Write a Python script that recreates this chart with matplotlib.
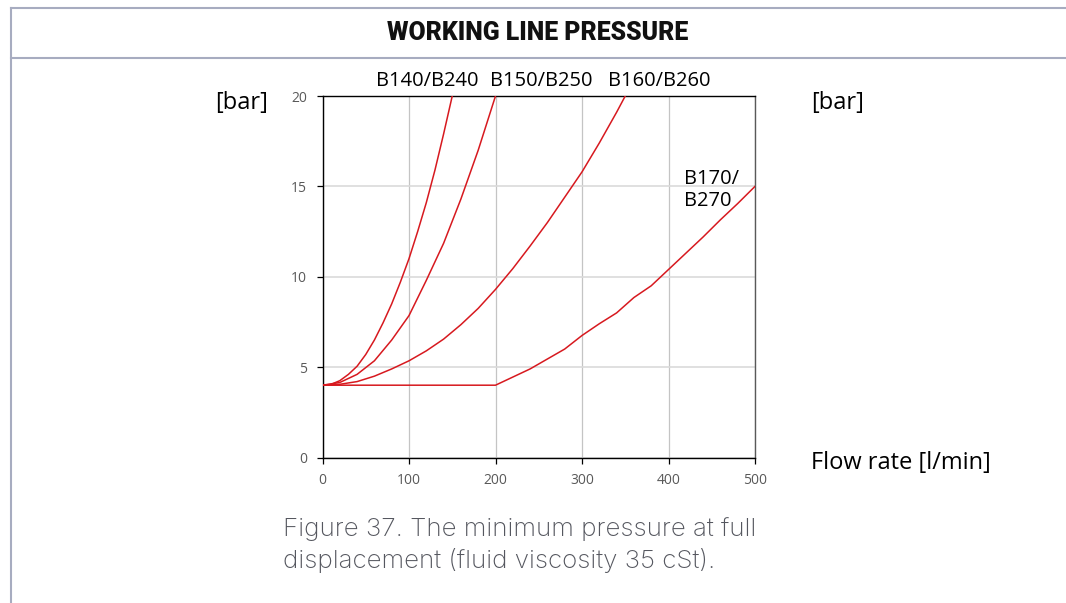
import matplotlib.pyplot as plt
from matplotlib.lines import Line2D

# flow rate [l/min] and minimum pressure [bar] per pump size
q140 = [0, 10, 20, 30, 40, 50, 60, 70, 80, 90, 100, 110, 120, 130, 140, 150]
p140 = [4.0, 4.05, 4.25, 4.6, 5.05, 5.7, 6.5, 7.45, 8.5, 9.7, 11.0, 12.5, 14.1, 15.9, 17.9, 20.0]

q150 = [0, 20, 40, 60, 80, 100, 120, 140, 160, 180, 200]
p150 = [4.0, 4.15, 4.6, 5.35, 6.5, 7.85, 9.8, 11.85, 14.3, 17.0, 20.0]

q160 = [0, 20, 40, 60, 80, 100, 120, 140, 160, 180, 200, 220, 240, 260, 280, 300, 320, 340, 350]
p160 = [4.0, 4.05, 4.2, 4.5, 4.9, 5.35, 5.9, 6.55, 7.35, 8.25, 9.3, 10.45, 11.7, 13.0, 14.4, 15.8, 17.4, 19.1, 20.0]

q170 = [0, 200, 220, 240, 260, 280, 300, 320, 340, 360, 380, 400, 420, 440, 460, 480, 500]
p170 = [4.0, 4.0, 4.45, 4.9, 5.45, 6.0, 6.75, 7.4, 8.0, 8.85, 9.5, 10.4, 11.3, 12.2, 13.15, 14.05, 15.0]

series = [(q140, p140), (q150, p150), (q160, p160), (q170, p170)]
top_labels = ['B140/B240', 'B150/B250', 'B160/B260']

W, H = 1066, 603
def fx(x):
    return x / W
def fy(y):
    return 1 - y / H

fig = plt.figure(figsize=(W / 100, H / 100), dpi=100)
fig.patch.set_facecolor('white')

# frame lines around the section
frame_c = '#a7acc0'
fig.add_artist(Line2D([fx(11), 1], [fy(8), fy(8)], color=frame_c, lw=1.5))
fig.add_artist(Line2D([fx(11), 1], [fy(57.5), fy(57.5)], color=frame_c, lw=1.5))
fig.add_artist(Line2D([fx(11), fx(11)], [fy(8), 0], color=frame_c, lw=1.5))

fig.text(fx(538), fy(33), 'WORKING LINE PRESSURE', ha='center', va='center',
         fontsize=17.8, fontweight='black', family='Roboto', color='#111111')

ax = fig.add_axes([fx(322.5), fy(457.5), (755 - 322.5) / W, (457.5 - 96) / H])
red = '#d7191f'
for q, p in series:
    ax.plot(q, p, color=red, lw=1.1, solid_joinstyle='round', zorder=3)

ax.set_xlim(0, 500)
ax.set_ylim(0, 20)
ax.set_xticks([0, 100, 200, 300, 400, 500])
ax.set_yticks([0, 5, 10, 15, 20])
ax.xaxis.grid(True, color='#c4c4c4', lw=0.9)
ax.yaxis.grid(True, color='#dadada', lw=1.2)
ax.set_axisbelow(True)
for s in ['left', 'bottom', 'top']:
    ax.spines[s].set_color('black')
    ax.spines[s].set_linewidth(1.0)
ax.spines['right'].set_color('#595959')
ax.spines['right'].set_linewidth(1.0)
ax.tick_params(direction='out', length=4, width=0.9, color='black',
               labelcolor='#595959', labelsize=10, pad=7)
for lab in ax.get_xticklabels() + ax.get_yticklabels():
    lab.set_family('Open Sans')

label_font = dict(family='Open Sans', fontsize=14.5, color='black')
for text, xc in zip(top_labels, [427, 541, 659]):
    fig.text(fx(xc), fy(81), text, ha='center', va='center', **label_font)
fig.text(fx(684), fy(190), 'B170/\nB270', ha='left', va='center', linespacing=1.2, **label_font)

axis_font = dict(family='Open Sans', fontsize=17, color='black')
fig.text(fx(268), fy(103), '[bar]', ha='right', va='center', **axis_font)
fig.text(fx(811), fy(103), '[bar]', ha='left', va='center', **axis_font)
fig.text(fx(811), fy(463), 'Flow rate [l/min]', ha='left', va='center', **axis_font)

fig.text(fx(283), fy(545), 'Figure 37. The minimum pressure at full\ndisplacement (fluid viscosity 35 cSt).',
         ha='left', va='center', fontsize=18.7, fontweight='light', family='Inter',
         color='#55575f', linespacing=1.33)

fig.savefig('out.png', dpi=100)
